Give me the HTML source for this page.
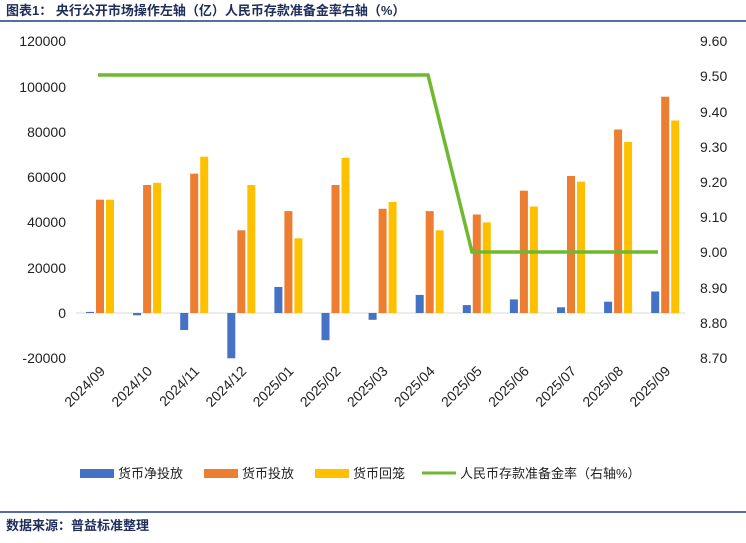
<!DOCTYPE html>
<html><head><meta charset="utf-8"><style>
body{margin:0;background:#fff;}
text{font-family:"Liberation Sans","Noto Sans CJK SC",sans-serif;}
</style></head><body>
<svg width="746" height="538" xmlns="http://www.w3.org/2000/svg">
<rect width="746" height="538" fill="#fff"/>
<text x="6" y="15" font-size="13" font-weight="bold" fill="#1f2d5a" font-family="'Noto Serif CJK SC',serif">图表1：  央行公开市场操作左轴（亿）人民币存款准备金率右轴（%）</text>
<line x1="0" y1="21" x2="746" y2="21" stroke="#1f3c88" stroke-width="1.5"/>
<line x1="0" y1="512" x2="746" y2="512" stroke="#1f3c88" stroke-width="1.5"/>
<text x="6" y="530" font-size="13" font-weight="bold" fill="#1f2d5a" font-family="'Noto Serif CJK SC',serif">数据来源：普益标准整理</text>
<g font-size="14" fill="#222" text-anchor="end">
<text x="66" y="46">120000</text><text x="66" y="92">100000</text><text x="66" y="137">80000</text>
<text x="66" y="182">60000</text><text x="66" y="227">40000</text><text x="66" y="273">20000</text>
<text x="66" y="318">0</text><text x="66" y="363">-20000</text>
</g>
<g font-size="14" fill="#222">
<text x="700" y="46">9.60</text><text x="700" y="81">9.50</text><text x="700" y="117">9.40</text>
<text x="700" y="152">9.30</text><text x="700" y="187">9.20</text><text x="700" y="222">9.10</text>
<text x="700" y="257">9.00</text><text x="700" y="293">8.90</text><text x="700" y="328">8.80</text>
<text x="700" y="363">8.70</text>
</g>
<line x1="76" y1="313" x2="685" y2="313" stroke="#d9d9d9"/>
<g fill="#4472c4">
<rect x="86" y="311.9" width="8" height="1.1"/>
<rect x="133.1" y="313" width="8" height="2.3"/>
<rect x="180.2" y="313" width="8" height="17"/>
<rect x="227.3" y="313" width="8" height="45.3"/>
<rect x="274.4" y="287" width="8" height="26"/>
<rect x="321.5" y="313" width="8" height="27.2"/>
<rect x="368.6" y="313" width="8" height="6.8"/>
<rect x="415.7" y="294.9" width="8" height="18.1"/>
<rect x="462.8" y="305.1" width="8" height="7.9"/>
<rect x="509.9" y="299.4" width="8" height="13.6"/>
<rect x="557" y="307.3" width="8" height="5.7"/>
<rect x="604.1" y="301.7" width="8" height="11.3"/>
<rect x="651.2" y="291.5" width="8" height="21.5"/>
</g>
<g fill="#ed7d31">
<rect x="96" y="199.7" width="8" height="113.3"/>
<rect x="143.1" y="185" width="8" height="128"/>
<rect x="190.2" y="173.7" width="8" height="139.3"/>
<rect x="237.3" y="230.3" width="8" height="82.7"/>
<rect x="284.4" y="211.1" width="8" height="101.9"/>
<rect x="331.5" y="185" width="8" height="128"/>
<rect x="378.6" y="208.8" width="8" height="104.2"/>
<rect x="425.7" y="211.1" width="8" height="101.9"/>
<rect x="472.8" y="214.5" width="8" height="98.5"/>
<rect x="519.9" y="190.7" width="8" height="122.3"/>
<rect x="567" y="176" width="8" height="137"/>
<rect x="614.1" y="129.5" width="8" height="183.5"/>
<rect x="661.2" y="96.7" width="8" height="216.3"/>
</g>
<g fill="#ffc000">
<rect x="106" y="199.7" width="8" height="113.3"/>
<rect x="153.1" y="182.8" width="8" height="130.2"/>
<rect x="200.2" y="156.7" width="8" height="156.3"/>
<rect x="247.3" y="185" width="8" height="128"/>
<rect x="294.4" y="238.3" width="8" height="74.7"/>
<rect x="341.5" y="157.8" width="8" height="155.2"/>
<rect x="388.6" y="202" width="8" height="111"/>
<rect x="435.7" y="230.3" width="8" height="82.7"/>
<rect x="482.8" y="222.4" width="8" height="90.6"/>
<rect x="529.9" y="206.5" width="8" height="106.5"/>
<rect x="577" y="181.6" width="8" height="131.4"/>
<rect x="624.1" y="142" width="8" height="171"/>
<rect x="671.2" y="120.5" width="8" height="192.5"/>
</g>
<polyline fill="none" stroke="#6fb82f" stroke-width="3.5" points="98,75 428,75 472,252 658,252"/>
<g font-size="14" fill="#222" text-anchor="end">
<text transform="translate(106,372) rotate(-45)">2024/09</text>
<text transform="translate(153.1,372) rotate(-45)">2024/10</text>
<text transform="translate(200.2,372) rotate(-45)">2024/11</text>
<text transform="translate(247.3,372) rotate(-45)">2024/12</text>
<text transform="translate(294.4,372) rotate(-45)">2025/01</text>
<text transform="translate(341.5,372) rotate(-45)">2025/02</text>
<text transform="translate(388.6,372) rotate(-45)">2025/03</text>
<text transform="translate(435.7,372) rotate(-45)">2025/04</text>
<text transform="translate(482.8,372) rotate(-45)">2025/05</text>
<text transform="translate(529.9,372) rotate(-45)">2025/06</text>
<text transform="translate(577,372) rotate(-45)">2025/07</text>
<text transform="translate(624.1,372) rotate(-45)">2025/08</text>
<text transform="translate(671.2,372) rotate(-45)">2025/09</text>
</g>
<g font-size="13" fill="#222">
<rect x="80" y="469" width="34" height="9" fill="#4472c4"/><text x="118" y="478">货币净投放</text>
<rect x="204" y="469" width="34" height="9" fill="#ed7d31"/><text x="242" y="478">货币投放</text>
<rect x="315" y="469" width="34" height="9" fill="#ffc000"/><text x="353" y="478">货币回笼</text>
<line x1="422" y1="473" x2="456" y2="473" stroke="#6fb82f" stroke-width="3"/><text x="460" y="478">人民币存款准备金率（右轴%）</text>
</g>
</svg>
</body></html>
